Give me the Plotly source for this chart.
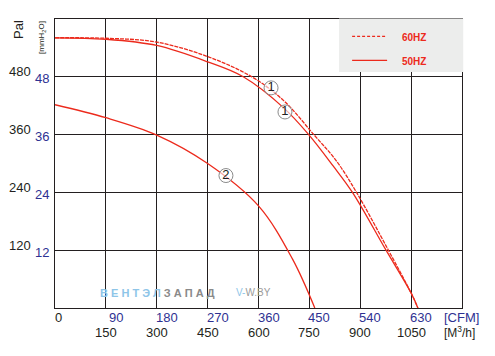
import plotly.graph_objects as go

# ---- data (flow in m3/h, pressure in mmH2O) ----
flow_60hz = [0, 150, 300, 450, 580, 675, 763, 830, 889, 983, 1050, 1070]
pres_60hz = [56.1, 56.0, 55.2, 52.2, 48.0, 43.0, 36.0, 30.5, 24.0, 12.0, 3.1, 0.0]

flow_50hz = [0, 150, 300, 450, 555, 675, 748, 820, 877, 976, 1050, 1070]
pres_50hz = [56.1, 55.8, 54.5, 51.1, 48.0, 41.5, 36.0, 29.5, 24.0, 12.0, 3.1, 0.0]

flow_c2 = [0, 150, 300, 450, 600, 700, 766]
pres_c2 = [42.2, 39.5, 35.9, 30.0, 21.2, 10.2, 0.0]

m3h_ticks = [150, 300, 450, 600, 750, 900, 1050]
cfm_ticks = [90, 180, 270, 360, 450, 540, 630]
mm_ticks = [12, 24, 36, 48]
pa_ticks = [120, 240, 360, 480]

label_x = [637, 678, 504]
label_y = [45.7, 40.7, 27.5]
label_txt = ["1", "1", "2"]

RED = "#ec2a1c"
BLUE = "#2e3192"
BLACK = "#231f20"
GRID = "#231f20"
FONT = "Liberation Sans, Arial, sans-serif"

fig = go.Figure()
fig.add_trace(go.Scatter(x=flow_50hz, y=pres_50hz, mode="lines",
                         line=dict(color=RED, width=1.3, shape="spline", smoothing=1.0),
                         showlegend=False, hoverinfo="skip"))
fig.add_trace(go.Scatter(x=flow_60hz, y=pres_60hz, mode="lines",
                         line=dict(color=RED, width=1.3, dash="4px,1px", shape="spline", smoothing=1.0),
                         showlegend=False, hoverinfo="skip"))
fig.add_trace(go.Scatter(x=flow_c2, y=pres_c2, mode="lines",
                         line=dict(color=RED, width=1.3, shape="spline", smoothing=1.0),
                         showlegend=False, hoverinfo="skip"))
fig.add_trace(go.Scatter(x=label_x, y=label_y, mode="markers+text", text=label_txt,
                         textposition="middle center",
                         textfont=dict(family=FONT, size=13, color=BLACK),
                         marker=dict(size=14, color="rgba(255,255,255,0.6)",
                                     line=dict(color="#8a8a8a", width=1)),
                         showlegend=False, hoverinfo="skip"))

annotations = []
# y tick labels
for mm, pa in zip(mm_ticks, pa_ticks):
    annotations.append(dict(x=0, y=mm, xref="paper", yref="y", text=str(pa),
                            showarrow=False, xanchor="right", yanchor="middle",
                            xshift=-22, yshift=5,
                            font=dict(family=FONT, size=13, color=BLACK)))
    annotations.append(dict(x=0, y=mm, xref="paper", yref="y", text=str(mm),
                            showarrow=False, xanchor="right", yanchor="middle",
                            xshift=-4, yshift=-2,
                            font=dict(family=FONT, size=13, color=BLUE)))
# x tick labels
annotations.append(dict(x=0, y=0, xref="x", yref="paper", text="0", showarrow=False,
                        xanchor="center", yanchor="middle", xshift=3, yshift=-9,
                        font=dict(family=FONT, size=13, color=BLACK)))
for m3, cfm in zip(m3h_ticks, cfm_ticks):
    annotations.append(dict(x=m3, y=0, xref="x", yref="paper", text=str(cfm),
                            showarrow=False, xanchor="center", yanchor="middle",
                            xshift=10, yshift=-9,
                            font=dict(family=FONT, size=13, color=BLUE)))
    annotations.append(dict(x=m3, y=0, xref="x", yref="paper", text=str(m3),
                            showarrow=False, xanchor="center", yanchor="middle",
                            xshift=0, yshift=-24,
                            font=dict(family=FONT, size=13, color=BLACK)))
annotations.append(dict(x=1, y=0, xref="paper", yref="paper", text="[CFM]",
                        showarrow=False, xanchor="left", yanchor="middle",
                        xshift=-20, yshift=-9, font=dict(family=FONT, size=13, color=BLUE)))
annotations.append(dict(x=1, y=0, xref="paper", yref="paper", text="[M<sup>3</sup>/h]",
                        showarrow=False, xanchor="left", yanchor="middle",
                        xshift=-20, yshift=-24, font=dict(family=FONT, size=12, color=BLACK)))
# axis titles
annotations.append(dict(x=0, y=1, xref="paper", yref="paper", text="Pal",
                        showarrow=False, textangle=-90, xanchor="center", yanchor="middle",
                        xshift=-37, yshift=-11, font=dict(family=FONT, size=13, color=BLACK)))
annotations.append(dict(x=0, y=1, xref="paper", yref="paper", text="[mmH<sub>2</sub>O]",
                        showarrow=False, textangle=-90, xanchor="center", yanchor="middle",
                        xshift=-13, yshift=-19, font=dict(family=FONT, size=8, color=BLACK)))
# legend (drawn)
annotations.append(dict(x=0.848, y=0.935, xref="paper", yref="paper", text="<b>60HZ</b>",
                        showarrow=False, xanchor="left", yanchor="middle",
                        font=dict(family=FONT, size=10, color=RED)))
annotations.append(dict(x=0.848, y=0.852, xref="paper", yref="paper", text="<b>50HZ</b>",
                        showarrow=False, xanchor="left", yanchor="middle",
                        font=dict(family=FONT, size=10, color=RED)))
# watermark
annotations.append(dict(x=0.105, y=0.053, xref="paper", yref="paper",
                        text="<b><span style='color:#8ec5e8'>В Е Н Т Э Л</span> "
                             "<span style='color:#8a8a8a'>З А П А Д</span></b>",
                        showarrow=False, xanchor="left", yanchor="middle",
                        font=dict(family=FONT, size=11)))
annotations.append(dict(x=0.44, y=0.053, xref="paper", yref="paper",
                        text="<span style='color:#8ec5e8'>V-</span>"
                             "<span style='color:#9a9a9a'>W.BY</span>",
                        showarrow=False, xanchor="left", yanchor="middle",
                        font=dict(family=FONT, size=10)))

shapes = [
    dict(type="rect", xref="paper", yref="paper", x0=0.698, x1=1.003, y0=0.817, y1=1.002,
         fillcolor="#ecedec", line=dict(width=0), layer="above"),
    dict(type="line", xref="paper", yref="paper", x0=0.730, x1=0.816, y0=0.94, y1=0.94,
         line=dict(color=RED, width=1.2, dash="3px,2px"), layer="above"),
    dict(type="line", xref="paper", yref="paper", x0=0.730, x1=0.816, y0=0.857, y1=0.857,
         line=dict(color=RED, width=1.2), layer="above"),
]

fig.update_layout(
    width=495, height=356,
    margin=dict(l=55, r=33, t=19, b=48),
    paper_bgcolor="white", plot_bgcolor="white",
    xaxis=dict(range=[0, 1200], tickvals=m3h_ticks, showticklabels=False,
               showgrid=True, gridcolor=GRID, gridwidth=1.3, zeroline=False,
               showline=True, linecolor=GRID, linewidth=1.3, mirror=True, ticks=""),
    yaxis=dict(range=[0, 60], tickvals=mm_ticks, showticklabels=False,
               showgrid=True, gridcolor=GRID, gridwidth=1.3, zeroline=False,
               showline=True, linecolor=GRID, linewidth=1.3, mirror=True, ticks=""),
    annotations=annotations,
    shapes=shapes,
    showlegend=False,
)

fig.write_html("out.html", config={"displayModeBar": False},
               post_script="document.body.style.margin='0';document.body.style.overflow='hidden';")
